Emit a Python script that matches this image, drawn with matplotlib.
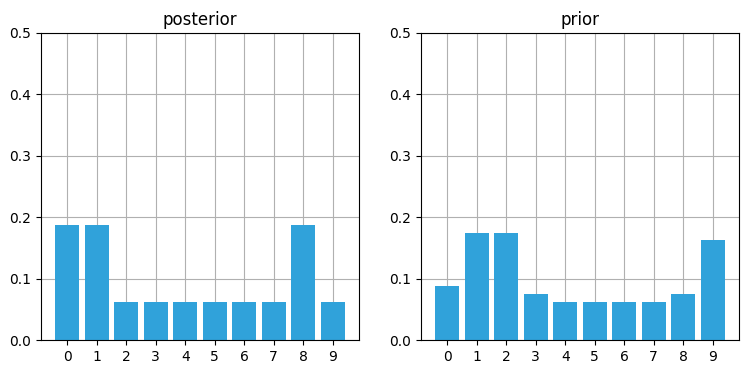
import matplotlib
matplotlib.use("Agg")
import matplotlib.pyplot as plt
import numpy as np

positions = list(range(10))
posterior = [0.1875, 0.1875, 0.0625, 0.0625, 0.0625, 0.0625, 0.0625, 0.0625, 0.1875, 0.0625]
prior = [0.0875, 0.175, 0.175, 0.075, 0.0625, 0.0625, 0.0625, 0.0625, 0.075, 0.1625]
titles = ["posterior", "prior"]
color = "#30a2da"

fig = plt.figure(figsize=(7.49, 3.74), dpi=100)
ax1 = fig.add_axes([41/749, 1-340/374, 318/749, 307/374])
ax2 = fig.add_axes([421/749, 1-340/374, 318/749, 307/374])

for ax, vals, title in zip([ax1, ax2], [posterior, prior], titles):
    ax.bar(positions, vals, width=0.8, color=color, zorder=2)
    ax.set_ylim(0, 0.5)
    ax.set_xticks(positions)
    ax.set_yticks([0.0, 0.1, 0.2, 0.3, 0.4, 0.5])
    ax.grid(True, color="#b0b0b0", linewidth=0.8, zorder=0)
    ax.set_axisbelow(True)
    ax.set_title(title)

fig.savefig("out.png", dpi=100)
